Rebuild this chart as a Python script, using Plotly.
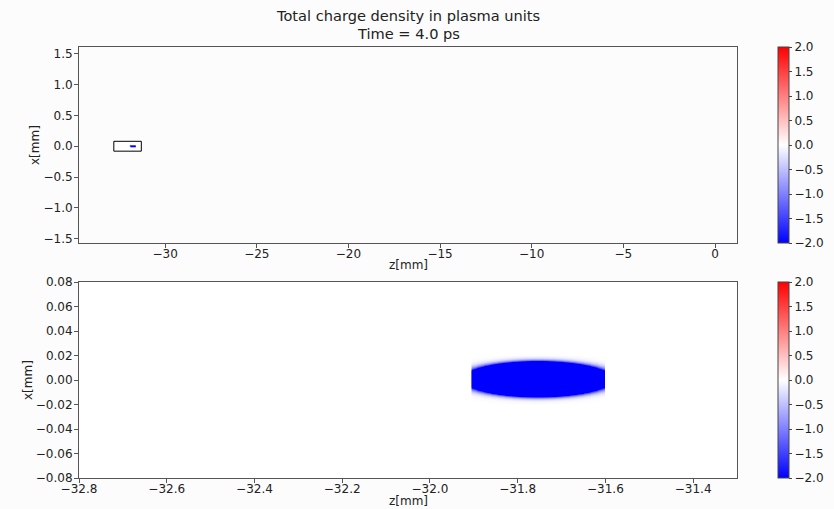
import numpy as np
import plotly.graph_objects as go
from plotly.subplots import make_subplots

# ---- data ----
title_lines = ["Total charge density in plasma units", "Time = 4.0 ps"]
# beam (electron bunch) parameters
beam_z_center = -31.755   # mm
beam_x_center = 0.001     # mm
beam_sigma_z = 0.054      # mm
beam_sigma_x = 0.0045     # mm
beam_peak = -300.0        # plasma units (saturates the colour scale)
beam_z_cut = [-31.905, -31.603]  # longitudinal truncation of the bunch
# sampling grid of the zoom window
grid_z = np.round(np.arange(-32.8, -31.3 + 1e-9, 0.004), 4)
grid_x = np.round(np.arange(-0.08, 0.08 + 1e-9, 0.0008), 5)

zoom_box_z = [-32.8, -31.3]
zoom_box_x = [-0.08, 0.08]

top_z_range = [-34.7, 1.2]
top_x_range = [-1.57, 1.61]
top_z_ticks = [-30, -25, -20, -15, -10, -5, 0]
top_x_ticks = [-1.5, -1.0, -0.5, 0.0, 0.5, 1.0, 1.5]
bot_z_range = [-32.8, -31.3]
bot_x_range = [-0.08, 0.08]
bot_z_ticks = [-32.8, -32.6, -32.4, -32.2, -32.0, -31.8, -31.6, -31.4]
bot_x_ticks = [-0.08, -0.06, -0.04, -0.02, 0.0, 0.02, 0.04, 0.06, 0.08]
cbar_ticks = [-2.0, -1.5, -1.0, -0.5, 0.0, 0.5, 1.0, 1.5, 2.0]
cmin, cmax = -2.0, 2.0
z_label = "z[mm]"
x_label = "x[mm]"

# ---- density map built from the beam parameters ----
Z, X = np.meshgrid(grid_z, grid_x)
rho = beam_peak * np.exp(-0.5 * ((Z - beam_z_center) / beam_sigma_z) ** 2
                         - 0.5 * ((X - beam_x_center) / beam_sigma_x) ** 2)
rho[(Z < beam_z_cut[0]) | (Z > beam_z_cut[1])] = 0.0
rho = np.clip(rho, -2.5, 2.5)
rho = np.round(rho, 3)

bwr = [[0.0, "rgb(0,0,255)"], [0.5, "rgb(255,255,255)"], [1.0, "rgb(255,0,0)"]]

W, H = 834, 509
L, R, T, B = 79, 97, 47, 31
ph = H - T - B
pw = W - L - R
top_dom = [(478 - 243) / ph, 1.0]
bot_dom = [0.0, (478 - 282) / ph]
cb_x = (778 - 79) / pw

font = dict(family="DejaVu Sans", size=12, color="#222")

fig = make_subplots(rows=2, cols=1)

def cbar(ytop):
    return dict(x=cb_x, xanchor="left", y=ytop, yanchor="top", len=top_dom[1] - top_dom[0],
                lenmode="fraction", thickness=11, outlinewidth=1, outlinecolor="#444",
                tickvals=cbar_ticks, tickformat=".1f", ticks="outside", ticklen=3,
                tickcolor="#444", tickfont=font, xpad=0, ypad=0)

fig.add_trace(go.Heatmap(z=rho, x=grid_z, y=grid_x, colorscale=bwr, zmin=cmin, zmax=cmax,
                         zsmooth="best", colorbar=cbar(top_dom[1]), hoverinfo="skip"), row=1, col=1)
fig.add_trace(go.Heatmap(z=rho, x=grid_z, y=grid_x, colorscale=bwr, zmin=cmin, zmax=cmax,
                         zsmooth="best", colorbar=cbar(bot_dom[1]), hoverinfo="skip"), row=2, col=1)

fig.add_shape(type="rect", xref="x", yref="y", x0=zoom_box_z[0], x1=zoom_box_z[1],
              y0=zoom_box_x[0], y1=zoom_box_x[1], line=dict(color="black", width=1))

ax = dict(showline=True, mirror=True, linecolor="#555", linewidth=1, ticks="outside",
          ticklen=4, tickcolor="#555", showgrid=False, zeroline=False, tickfont=font,
          automargin=False)

fig.update_xaxes(**ax, ticklabelstandoff=-4)
fig.update_yaxes(**ax, ticklabelstandoff=-1)
fig.update_layout(
    xaxis=dict(range=top_z_range, tickvals=top_z_ticks, domain=[0, 1]),
    yaxis=dict(range=top_x_range, tickvals=top_x_ticks, tickformat=".1f", domain=top_dom),
    xaxis2=dict(range=bot_z_range, tickvals=bot_z_ticks, tickformat=".1f", domain=[0, 1]),
    yaxis2=dict(range=bot_x_range, tickvals=bot_x_ticks, tickformat=".2f", domain=bot_dom),
)

# axis labels (placed by pixel offsets from the plot areas)
fig.add_annotation(text=z_label, xref="paper", yref="paper", x=0.5, y=top_dom[0],
                   xanchor="center", yanchor="middle", yshift=-22, showarrow=False, font=font)
fig.add_annotation(text=z_label, xref="paper", yref="paper", x=0.5, y=bot_dom[0],
                   xanchor="center", yanchor="middle", yshift=-23, showarrow=False, font=font)
fig.add_annotation(text=x_label, xref="paper", yref="paper", x=0, y=sum(top_dom) / 2,
                   xanchor="center", yanchor="middle", xshift=-44, textangle=-90,
                   showarrow=False, font=font)
fig.add_annotation(text=x_label, xref="paper", yref="paper", x=0, y=sum(bot_dom) / 2,
                   xanchor="center", yanchor="middle", xshift=-51, textangle=-90,
                   showarrow=False, font=font)

title_font = dict(family="DejaVu Sans", size=14.6, color="#222")
for line, shift in zip(title_lines, [32, 14]):
    fig.add_annotation(text=line, xref="paper", yref="paper", x=0.5, y=1,
                       xanchor="center", yanchor="middle", yshift=shift, showarrow=False,
                       borderpad=0, font=title_font)

fig.update_layout(
    width=W, height=H, margin=dict(l=L, r=R, t=T, b=B, autoexpand=False),
    paper_bgcolor="#fcfcfc", plot_bgcolor="#fcfcfc",
    font=font, showlegend=False,
)

fig.write_html("out.html", config={"displayModeBar": False},
               post_script="document.body.style.margin='0';document.body.style.background='#fcfcfc';")
